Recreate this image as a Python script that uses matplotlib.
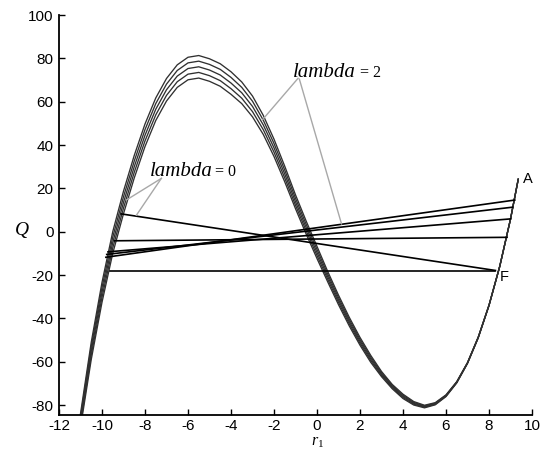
import numpy as np
import matplotlib
matplotlib.use("Agg")
import matplotlib.pyplot as plt

# 横坐标 r1 的取样点
r1 = [-11.1, -10.5, -10, -9.5, -9, -8.5, -8, -7.5, -7, -6.5, -6, -5.5, -5, -4.5,
      -4, -3.5, -3, -2.5, -2, -1.5, -1, -0.5, 0, 0.5, 1, 1.5, 2, 2.5, 3, 3.5,
      4, 4.5, 5, 5.5, 6, 6.5, 7, 7.5, 8, 8.5, 9, 9.36]

# 五条 Q 曲线 (从上到下)
q_1 = [-90.6, -51, -23.4, 0, 18.7, 35.2, 49.7, 61.7, 70.7, 77.0, 80.5, 81.3, 79.8, 77.5,
       73.8, 69.1, 62.6, 53.7, 42.7, 30.2, 17.0, 4.8, -6.8, -18.4, -29.3, -39.5, -48.8, -57.1,
       -64.5, -70.5, -75.0, -78.4, -80.1, -78.9, -75.3, -69.2, -60.4, -48.6, -33.9, -16, 5.8, 24.2]
q_2 = [-92.1, -53, -25.7, -2.5, 16.1, 32.6, 47.1, 59.1, 68.1, 74.4, 77.9, 78.7, 77.2, 74.9,
       71.2, 66.6, 60.2, 51.5, 40.7, 28.4, 15.4, 3.3, -8.2, -19.6, -30.4, -40.5, -49.7, -57.9,
       -65.1, -71.0, -75.5, -78.8, -80.4, -79.15, -75.5, -69.35, -60.5, -48.7, -33.95, -16, 5.8, 24.2]
q_3 = [-93.6, -55, -28, -5, 13.5, 30, 44.5, 56.5, 65.5, 71.8, 75.3, 76.1, 74.6, 72.3,
       68.6, 64.1, 57.8, 49.3, 38.7, 26.6, 13.8, 1.8, -9.6, -20.8, -31.5, -41.5, -50.6, -58.7,
       -65.7, -71.5, -76, -79.2, -80.7, -79.4, -75.7, -69.5, -60.6, -48.8, -34, -16, 5.8, 24.2]
q_4 = [-95.1, -57, -30.3, -7.5, 10.9, 27.4, 41.9, 53.9, 62.9, 69.2, 72.7, 73.5, 72.0, 69.7,
       66.0, 61.6, 55.4, 47.1, 36.7, 24.8, 12.2, 0.3, -11.0, -22.0, -32.6, -42.5, -51.5, -59.5,
       -66.3, -72.0, -76.5, -79.6, -81.0, -79.65, -75.9, -69.65, -60.7, -48.9, -34.05, -16, 5.8, 24.2]
q_5 = [-96.6, -59, -32.6, -10, 8.3, 24.8, 39.3, 51.3, 60.3, 66.6, 70.1, 70.9, 69.4, 67.1,
       63.4, 59.1, 53.0, 44.9, 34.7, 23.0, 10.6, -1.2, -12.4, -23.2, -33.7, -43.5, -52.4, -60.3,
       -66.9, -72.5, -77.0, -80.0, -81.3, -79.9, -76.1, -69.8, -60.8, -49.0, -34.1, -16, 5.8, 24.2]

# 直线段的两个端点
line_x0 = [-9.1, -9.64, -9.42, -9.72, -9.78, -9.82]
line_y0 = [8.2, -18.1, -4.2, -9.3, -10.5, -11.8]
line_x1 = [8.3, 8.3, 8.84, 9.0, 9.09, 9.2]
line_y1 = [-17.9, -18.1, -2.6, 5.9, 11.3, 14.6]

x_ticks = [-12, -10, -8, -6, -4, -2, 0, 2, 4, 6, 8, 10]
y_ticks = [-80, -60, -40, -20, 0, 20, 40, 60, 80, 100]

plt.rcParams['mathtext.fontset'] = 'custom'
plt.rcParams['mathtext.rm'] = 'Liberation Serif'
plt.rcParams['mathtext.it'] = 'Liberation Serif:italic'
plt.rcParams['axes.unicode_minus'] = False

fig = plt.figure(figsize=(5.47, 4.5), dpi=100)
ax = fig.add_axes([59 / 547, 35 / 450, 473 / 547, 400 / 450])

# 曲线族
for q in [q_1, q_2, q_3, q_4, q_5]:
    ax.plot(r1, q, color='#303030', lw=0.95)

# 直线
for i in range(len(line_x0)):
    ax.plot([line_x0[i], line_x1[i]], [line_y0[i], line_y1[i]], color='black', lw=1.2)

# 标注引线
gray = '#a8a8a8'
ax.plot([-0.88, -2.55], [70.8, 51.5], color=gray, lw=1)
ax.plot([-0.82, 1.14], [70.4, 3.6], color=gray, lw=1)
ax.plot([-7.24, -8.87], [24.6, 14.6], color=gray, lw=1)
ax.plot([-7.24, -8.4], [24.6, 7.6], color=gray, lw=1)

ax.text(-1.12, 71.5, 'lambda', fontsize=15, family='Liberation Serif', style='italic', va='baseline')
ax.text(1.99, 71.5, '= 2', fontsize=11.5, family='Liberation Serif', va='baseline')
ax.text(-7.78, 25.8, 'lambda', fontsize=15, family='Liberation Serif', style='italic', va='baseline')
ax.text(-4.76, 25.8, '= 0', fontsize=11.5, family='Liberation Serif', va='baseline')

ax.text(9.82, 24.2, 'A', fontsize=10.5, family='Liberation Sans', ha='center', va='center')
ax.text(8.73, -20.8, 'F', fontsize=10.5, family='Liberation Sans', ha='center', va='center')

# 坐标轴
ax.set_xlim(-12, 10)
ax.set_ylim(-84.6, 100)
ax.spines['top'].set_visible(False)
ax.spines['right'].set_visible(False)
ax.spines['left'].set_linewidth(1.3)
ax.spines['bottom'].set_linewidth(1.3)
ax.set_xticks(x_ticks)
ax.set_yticks(y_ticks)
ax.tick_params(direction='in', length=4, width=1, labelsize=11, pad=4)
ax.tick_params(axis='x', pad=3)
for lab in ax.get_xticklabels() + ax.get_yticklabels():
    lab.set_family('Liberation Sans')

ax.text(-13.75, 0.8, '$Q$', fontsize=14, ha='center', va='center', clip_on=False)
ax.text(0.05, -97.1, '$r_1$', fontsize=11.5, ha='center', va='center', clip_on=False)

fig.savefig('out.png', dpi=100)
